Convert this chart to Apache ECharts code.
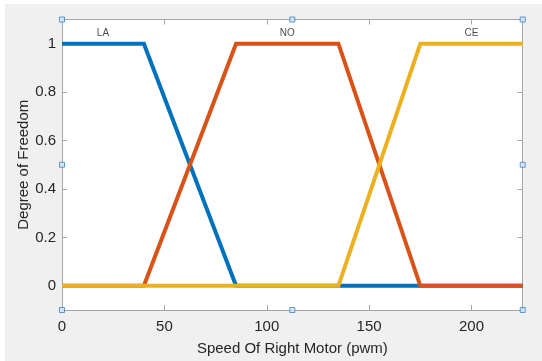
<!DOCTYPE html>
<html><head><meta charset="utf-8">
<script src="https://cdn.jsdelivr.net/npm/echarts@6/dist/echarts.min.js"></script>
<style>html,body{margin:0;padding:0;background:#fff}#c{width:542px;height:361px}</style>
</head><body><div id="c"></div>
<script>
var seriesNames = ['LA', 'NO', 'CE'];
var laPoints = [[0, 1], [40, 1], [85, 0], [225, 0]];
var noPoints = [[0, 0], [40, 0], [85, 1], [135, 1], [175, 0], [225, 0]];
var cePoints = [[0, 0], [135, 0], [175, 1], [225, 1]];
var labelX = [20, 110, 200];
var labelY = 1.045;
var xTicks = [0, 50, 100, 150, 200];
var yTicks = [0, 0.2, 0.4, 0.6, 0.8, 1];
var xRange = [0, 225];
var yRange = [-0.1, 1.1];
var colors = ['#0072BD', '#D95319', '#EDB120'];
var xTitle = 'Speed Of Right Motor (pwm)';
var yTitle = 'Degree of Freedom';

var font = "'Liberation Sans', Arial, sans-serif";
var axisCol = '#a6a6a6';
var handles = [];
[xRange[0], (xRange[0] + xRange[1]) / 2, xRange[1]].forEach(function (x, i) {
  [yRange[0], (yRange[0] + yRange[1]) / 2, yRange[1]].forEach(function (y, j) {
    if (!(i === 1 && j === 1)) handles.push([x, y]);
  });
});

var chart = echarts.init(document.getElementById('c'), null, {renderer: 'canvas'});
function mkLine(name, pts, c) {
  return {type: 'line', name: name, data: pts, symbol: 'none', animation: false,
    lineStyle: {color: c, width: 4, join: 'miter'}, itemStyle: {color: c}, clip: false, z: 3};
}
function line() { return {show: true, onZero: false, lineStyle: {color: axisCol, width: 1}}; }
chart.setOption({
  animation: false,
  backgroundColor: '#ffffff',
  graphic: [{type: 'rect', left: 5, top: 4, shape: {width: 537, height: 357}, style: {fill: '#f0f0f0'}, z: -10, silent: true}],
  grid: {left: 62, top: 19.5, right: 19.3, bottom: 50, show: true, backgroundColor: '#ffffff', borderWidth: 0},
  xAxis: [{
    type: 'value', min: xRange[0], max: xRange[1], position: 'bottom',
    name: xTitle, nameLocation: 'middle', nameGap: 31, nameMoveOverlap: false,
    nameTextStyle: {fontFamily: font, fontSize: 15, color: '#262626'},
    axisLine: line(),
    axisTick: {show: true, inside: true, length: 5, customValues: xTicks, lineStyle: {color: axisCol}},
    axisLabel: {customValues: xTicks, fontFamily: font, fontSize: 15, color: '#262626', margin: 9},
    splitLine: {show: false}
  }, {
    type: 'value', min: xRange[0], max: xRange[1], position: 'top',
    axisLine: line(),
    axisTick: {show: true, inside: true, length: 5, customValues: xTicks, lineStyle: {color: axisCol}},
    axisLabel: {show: false}, splitLine: {show: false}
  }],
  yAxis: [{
    type: 'value', min: yRange[0], max: yRange[1], position: 'left',
    name: yTitle, nameLocation: 'middle', nameGap: 31, nameMoveOverlap: false,
    nameTextStyle: {fontFamily: font, fontSize: 15, color: '#262626'},
    axisLine: line(),
    axisTick: {show: true, inside: true, length: 5, customValues: yTicks, lineStyle: {color: axisCol}},
    axisLabel: {customValues: yTicks, fontFamily: font, fontSize: 15, color: '#262626', margin: 6},
    splitLine: {show: false}
  }, {
    type: 'value', min: yRange[0], max: yRange[1], position: 'right',
    axisLine: line(),
    axisTick: {show: true, inside: true, length: 5, customValues: yTicks, lineStyle: {color: axisCol}},
    axisLabel: {show: false}, splitLine: {show: false}
  }],
  series: [
    mkLine(seriesNames[0], laPoints, colors[0]),
    mkLine(seriesNames[1], noPoints, colors[1]),
    mkLine(seriesNames[2], cePoints, colors[2]),
    {type: 'scatter', symbolSize: 0, silent: true, z: 4,
      data: seriesNames.map(function (n, i) { return {value: [labelX[i], labelY], name: n}; }),
      label: {show: true, position: 'inside', formatter: '{b}', fontFamily: font, fontSize: 10, color: '#1a1a1a'}},
    {type: 'scatter', symbol: 'rect', symbolSize: 5, silent: true, z: 10, clip: false,
      data: handles, itemStyle: {color: '#d6e6f5', borderColor: '#3b82c4', borderWidth: 1}}
  ]
});
</script></body></html>
